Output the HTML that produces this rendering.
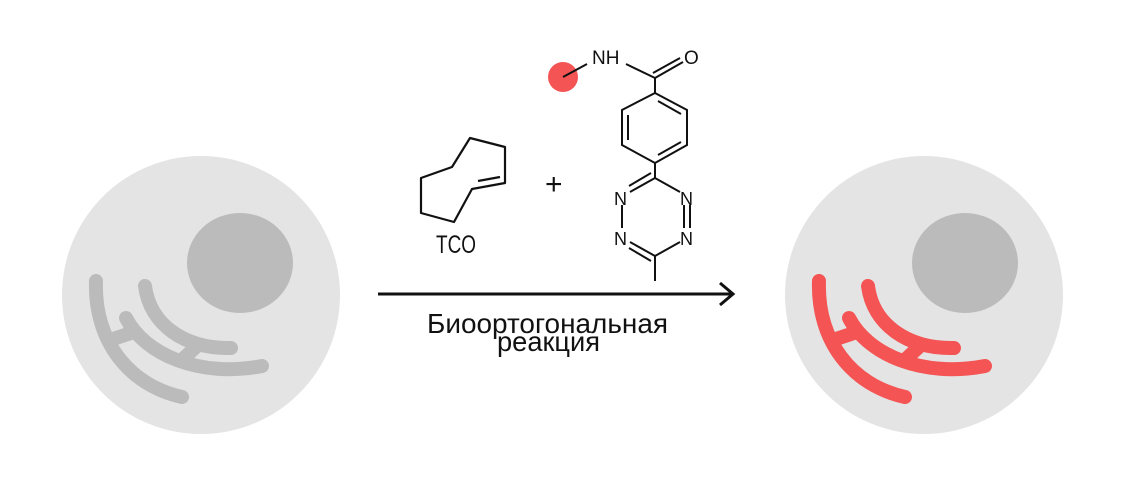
<!DOCTYPE html>
<html><head><meta charset="utf-8"><style>
html,body{margin:0;padding:0;background:#fff;}
svg{display:block;}
text{font-family:"Liberation Sans","DejaVu Sans",sans-serif;fill:#111;}
</style></head><body>
<svg width="1140" height="492" viewBox="0 0 1140 492" xmlns="http://www.w3.org/2000/svg">
<defs>
<g id="arcs" fill="none" stroke-width="14" stroke-linecap="round">
<path d="M96,281 C94,340 128,385 182,397"/>
<path d="M145,286 C150,325 185,349 231,348"/>
<path d="M126,318 C145,355 200,378 262,366"/>
<path d="M110,340 L134,332"/>
<path d="M184,358 L198,345"/>
</g>
</defs>
<circle cx="201" cy="295" r="139" fill="#e4e4e4"/>
<ellipse cx="240" cy="263" rx="53" ry="50" fill="#bbbbbb"/>
<use href="#arcs" stroke="#bbbbbb"/>
<g transform="translate(723,0)">
<circle cx="201" cy="295" r="139" fill="#e4e4e4"/>
<ellipse cx="242" cy="263" rx="53" ry="50" fill="#bbbbbb"/>
<use href="#arcs" stroke="#f45454"/>
</g>
<line x1="378" y1="294" x2="733" y2="294" stroke="#111" stroke-width="3"/>
<polyline points="720,283 733,294 720,305" fill="none" stroke="#111" stroke-width="3"/>
<text x="427" y="333" font-size="28" textLength="241" lengthAdjust="spacingAndGlyphs">Биоортогональная</text>
<text x="497" y="351" font-size="28" textLength="103" lengthAdjust="spacingAndGlyphs">реакция</text>
<g fill="none" stroke="#111" stroke-width="2.2" stroke-linejoin="round">
<polygon points="421,178 421,213 454,222 472,189 505,183 505,147 470,138 452,167"/>
<line x1="478" y1="181" x2="500" y2="177"/>
</g>
<text x="436" y="253" font-size="25" textLength="40" lengthAdjust="spacingAndGlyphs">TCO</text>
<text x="545" y="194" font-size="30">+</text>
<circle cx="563" cy="77" r="15" fill="#f45454"/>
<g fill="none" stroke="#111" stroke-width="2">
<line x1="563" y1="77" x2="587" y2="64"/>
<line x1="626" y1="64" x2="655" y2="78"/>
<line x1="655" y1="78" x2="683" y2="62"/>
<line x1="653" y1="73" x2="680" y2="58"/>
<line x1="655" y1="78" x2="655" y2="93"/>
<polygon points="655,93 687,110 687,145 655,163 622,145 622,110"/>
<line x1="628" y1="115" x2="628" y2="140"/>
<line x1="658" y1="101" x2="681" y2="114"/>
<line x1="658" y1="155" x2="681" y2="142"/>
<line x1="655" y1="163" x2="655" y2="178"/>
<line x1="655" y1="178" x2="630" y2="192"/>
<line x1="651" y1="173" x2="629" y2="186"/>
<line x1="655" y1="178" x2="680" y2="192"/>
<line x1="622" y1="205" x2="622" y2="228"/>
<line x1="684" y1="205" x2="684" y2="228"/>
<line x1="690" y1="205" x2="690" y2="228"/>
<line x1="630" y1="242" x2="655" y2="256"/>
<line x1="629" y1="248" x2="651" y2="261"/>
<line x1="680" y1="242" x2="655" y2="256"/>
<line x1="655" y1="256" x2="655" y2="281"/>
</g>
<text x="592" y="64" font-size="19">NH</text>
<text x="684" y="64" font-size="19">O</text>
<text x="614" y="205" font-size="18">N</text>
<text x="680" y="205" font-size="18">N</text>
<text x="614" y="245" font-size="18">N</text>
<text x="680" y="245" font-size="18">N</text>
</svg>
</body></html>
